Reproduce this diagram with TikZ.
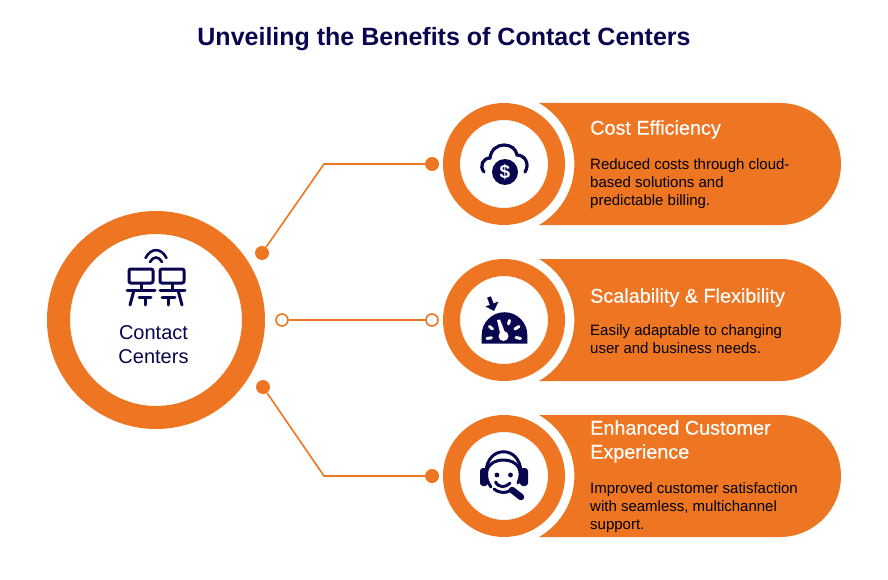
\documentclass[tikz,border=0pt]{standalone}
\usepackage{fontspec}
\setmainfont{Liberation Sans}
\newfontfamily\headfont[FakeBold=0.25]{Liberation Sans}
\definecolor{brandorange}{HTML}{EE7623}
\definecolor{brandnavy}{HTML}{08064F}
\tikzset{
  bigring/.style={circle, draw=brandorange, line width=23pt, minimum size=195pt, inner sep=0pt},
  smallring/.style={circle, draw=brandorange, line width=17pt, minimum size=105pt, inner sep=0pt},
  dotfull/.style={circle, fill=brandorange, minimum size=14pt, inner sep=0pt},
  dotopen/.style={circle, draw=brandorange, fill=white, line width=1.6pt, minimum size=12pt, inner sep=0pt},
  wire/.style={draw=brandorange, line width=1.6pt},
  headtext/.style={anchor=west, white, inner sep=0pt, align=left, font=\headfont\fontsize{19.8}{24}\selectfont},
  bodytext/.style={anchor=west, black, inner sep=0pt, align=left, font=\fontsize{15}{18}\selectfont},
  iconline/.style={draw=brandnavy, line width=3pt, line cap=round, fill=none},
  iconwhite/.style={draw=white, line width=3pt, line cap=round}
}
\begin{document}
\begin{tikzpicture}[x=1pt,y=-1pt]
\useasboundingbox (0,0) rectangle (888,580);
\node[font=\bfseries\fontsize{25}{28}\selectfont, text=brandnavy] (title) at (444,39.5) {Unveiling the Benefits of Contact Centers};

% left hub
\node[bigring] (hub) at (156,320) {};
\node[text=brandnavy, align=center, font=\fontsize{20}{24}\selectfont] (hubtext) at (153.5,345) {Contact\\Centers};
\draw[iconline, line width=2.6pt] (145.5,258) .. controls (151,247.5) and (161,247.5) .. (166.5,258);
\draw[iconline, line width=2.6pt] (150,262) .. controls (153,256) and (159,256) .. (162,262);
\draw[iconline, rounded corners=2pt] (129,269) rectangle (153,283);
\draw[iconline, rounded corners=2pt] (160,269) rectangle (184,283);
\draw[iconline] (127,290) -- (155,290) (160,290) -- (185,290);
\draw[iconline] (141,284) -- (141,290) (172,284) -- (172,290);
\draw[iconline] (133.5,292) -- (130,305) (178.5,292) -- (182,305);
\draw[iconline] (139,297.5) -- (151,297.5) (145,297.5) -- (145,305);
\draw[iconline] (162,297.5) -- (175,297.5) (168.5,297.5) -- (168.5,305);

% pills
\foreach \cy in {164,320,476} {
  \fill[brandorange] (539,\cy-61) -- (780,\cy-61) arc[start angle=-90, end angle=90, radius=61] -- (539,\cy+61)
    arc[start angle=60.2, end angle=-60.2, radius=70.3] -- cycle;
}
\node[smallring] (ringa) at (504,164) {};
\node[smallring] (ringb) at (504,320) {};
\node[smallring] (ringc) at (504,476) {};

% connectors
\node[dotfull] (dota) at (262,253) {};
\node[dotfull] (dotb) at (432,164) {};
\node[dotopen] (dotc) at (282,320) {};
\node[dotopen] (dotd) at (432,320) {};
\node[dotfull] (dote) at (263,387) {};
\node[dotfull] (dotf) at (432,476) {};
\coordinate (elbowa) at (324,164);
\coordinate (elbowb) at (324,476);
\draw[wire] (dota) -- (elbowa) -- (dotb);
\draw[wire] (dotc) -- (dotd);
\draw[wire] (dote) -- (elbowb) -- (dotf);

% texts
\node[headtext] (heada) at (590,129.5) {Cost Efficiency};
\node[bodytext] (bodya) at (590,183.5) {Reduced costs through cloud-\\based solutions and\\predictable billing.};
\node[headtext] (headb) at (590,297.5) {Scalability \& Flexibility};
\node[bodytext] (bodyb) at (590,339.5) {Easily adaptable to changing\\user and business needs.};
\node[headtext] (headc) at (590,441.5) {Enhanced Customer\\Experience};
\node[bodytext] (bodyc) at (590,507.5) {Improved customer satisfaction\\with seamless, multichannel\\support.};

% cloud icon
\draw[iconline, line width=3.2pt] (484,172) .. controls (479,166) and (483,158) .. (490,158)
  .. controls (491,149) and (498,145) .. (504,145)
  .. controls (511,145) and (516,149) .. (517,155)
  .. controls (525,155) and (530,164) .. (525,172);
\node[circle, fill=brandnavy, minimum size=26pt, inner sep=0pt, text=white, font=\bfseries\fontsize{19}{19}\selectfont] (coin) at (505,172) {\$};

% gauge icon
\fill[brandnavy] (481.7,343.5) -- (481.7,335) arc[start angle=180, end angle=360, radius=22.8] -- (527.3,343.5) -- cycle;
\draw[iconwhite] (489.5,326.5) -- (492.5,329) (509.5,320.5) -- (508.5,324) (519,326.5) -- (515,329) (487,338.5) -- (491.5,337.8) (516,337.5) -- (520.5,338.5);
\fill[white] (497,320) -- (500,319.5) -- (506,335) -- (501,337) -- cycle;
\fill[white] (503.5,336) circle[radius=5];
\draw[iconline, line width=4pt, line cap=butt] (489,297) -- (492,305);
\fill[brandnavy] (485.5,306.5) -- (498.5,301.5) -- (494,311) -- cycle;

% headset icon
\draw[iconline, line width=3pt] (486,472) .. controls (487,445) and (520,445) .. (521,472);
\draw[iconline, line width=3pt] (491,487) .. controls (481,473) and (488,460) .. (503.5,460)
  .. controls (517,460) and (524,470) .. (518,483);
\draw[iconline] (495.5,482) .. controls (499,488) and (505,488) .. (510,483);
\fill[brandnavy, rounded corners=3pt] (480,468) rectangle (488,486);
\fill[brandnavy, rounded corners=3pt] (520,468) rectangle (528,486);
\fill[brandnavy] (497,475) circle[radius=2.4];
\fill[brandnavy] (510.5,475) circle[radius=2.4];
\draw[iconline] (494,489) .. controls (500,493.5) and (506,493.5) .. (511,490);
\draw[iconline, line width=6.5pt] (512,490) -- (521,497);
\end{tikzpicture}
\end{document}
